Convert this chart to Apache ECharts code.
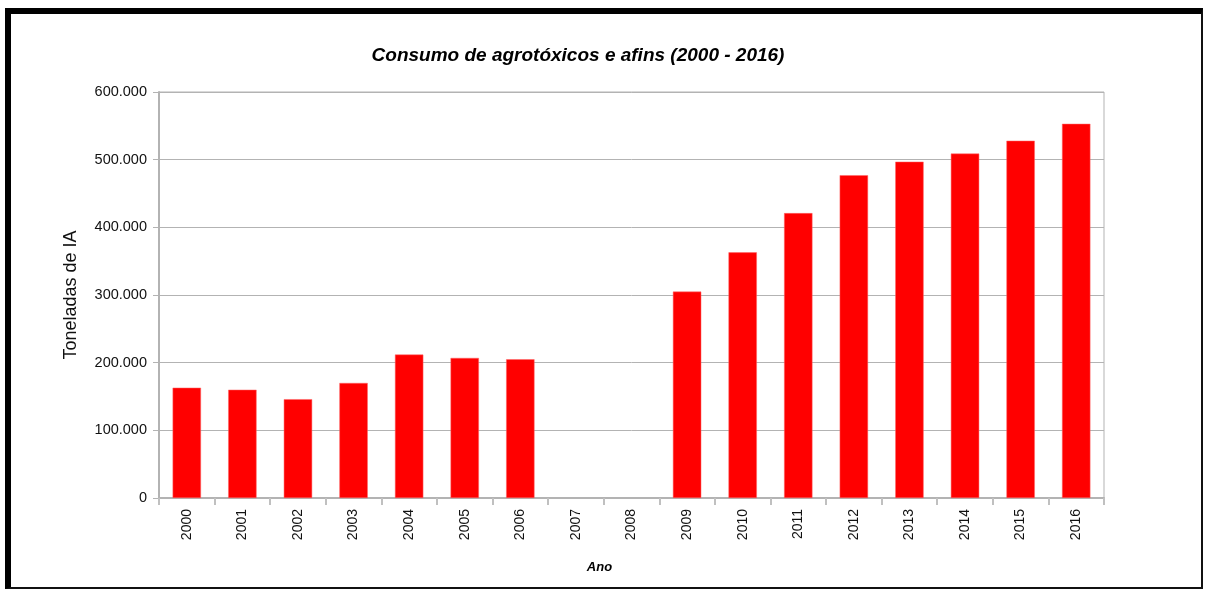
<!DOCTYPE html>
<html>
<head>
<meta charset="utf-8">
<script src="https://cdn.jsdelivr.net/npm/echarts@6/dist/echarts.min.js"></script>
<style>
  html, body { margin: 0; padding: 0; background: #fff; }
  #frame { position: absolute; left: 5px; top: 8px; width: 1190px; height: 573px;
           border-top: 6px solid #000; border-left: 6px solid #000;
           border-right: 2px solid #111; border-bottom: 2px solid #111; pointer-events: none; }
  #chart { position: absolute; left: 0; top: 0; width: 1206px; height: 590px; }
</style>
</head>
<body>
<div id="chart"></div>
<div id="frame"></div>
<script>
const titleText = 'Consumo de agrotóxicos e afins (2000 - 2016)';
const yAxisName = 'Toneladas de IA';
const xAxisName = 'Ano';
const years = ['2000','2001','2002','2003','2004','2005','2006','2007','2008','2009','2010','2011','2012','2013','2014','2015','2016'];
const consumo = [163000, 160000, 146000, 170000, 212000, 207000, 205000, null, null, 305000, 363000, 421000, 477000, 497000, 509000, 528000, 553000];
const yTicks = [0, 100000, 200000, 300000, 400000, 500000, 600000];

function fmt(v) { return String(v).replace(/\B(?=(\d{3})+(?!\d))/g, '.'); }

const chart = echarts.init(document.getElementById('chart'), null, { renderer: 'canvas' });
chart.setOption({
  backgroundColor: '#fff',
  animation: false,
  title: {
    text: titleText,
    left: 573, top: 41, textAlign: 'center',
    textStyle: { fontFamily: 'Liberation Sans', fontSize: 19, fontWeight: 'bold', fontStyle: 'italic', color: '#000' }
  },
  grid: { left: 159, right: 102, top: 92, bottom: 92, show: true, borderColor: '#b3b3b3', borderWidth: 1, containLabel: false },
  xAxis: {
    type: 'category',
    data: years,
    name: xAxisName,
    nameLocation: 'middle',
    nameGap: 63,
    nameTextStyle: { fontFamily: 'Liberation Sans', fontSize: 13, fontWeight: 'bold', fontStyle: 'italic', color: '#000', padding: [0, 64, 0, 0] },
    axisLine: { lineStyle: { color: '#b3b3b3', width: 2 } },
    axisTick: { show: true, length: 7, lineStyle: { color: '#c0c0c0', width: 2 } },
    axisLabel: { rotate: 90, margin: 11, fontFamily: 'Liberation Sans', fontSize: 14, color: '#111' }
  },
  yAxis: {
    type: 'value',
    min: yTicks[0], max: yTicks[yTicks.length - 1], interval: 100000,
    name: yAxisName,
    nameLocation: 'middle',
    nameGap: 79,
    nameTextStyle: { fontFamily: 'Liberation Sans', fontSize: 18, color: '#111' },
    axisLine: { show: true, lineStyle: { color: '#b3b3b3', width: 2 } },
    axisTick: { show: true, length: 6, lineStyle: { color: '#b3b3b3', width: 1 } },
    splitLine: { show: true, lineStyle: { color: '#b3b3b3', width: 1 } },
    axisLabel: { margin: 12, fontFamily: 'Liberation Sans', fontSize: 14.5, color: '#111', formatter: fmt }
  },
  series: [{
    type: 'bar',
    data: consumo,
    barWidth: '51%',
    itemStyle: { color: '#ff0000', borderColor: '#ff6666', borderWidth: 0.5 }
  }]
});
</script>
</body>
</html>
